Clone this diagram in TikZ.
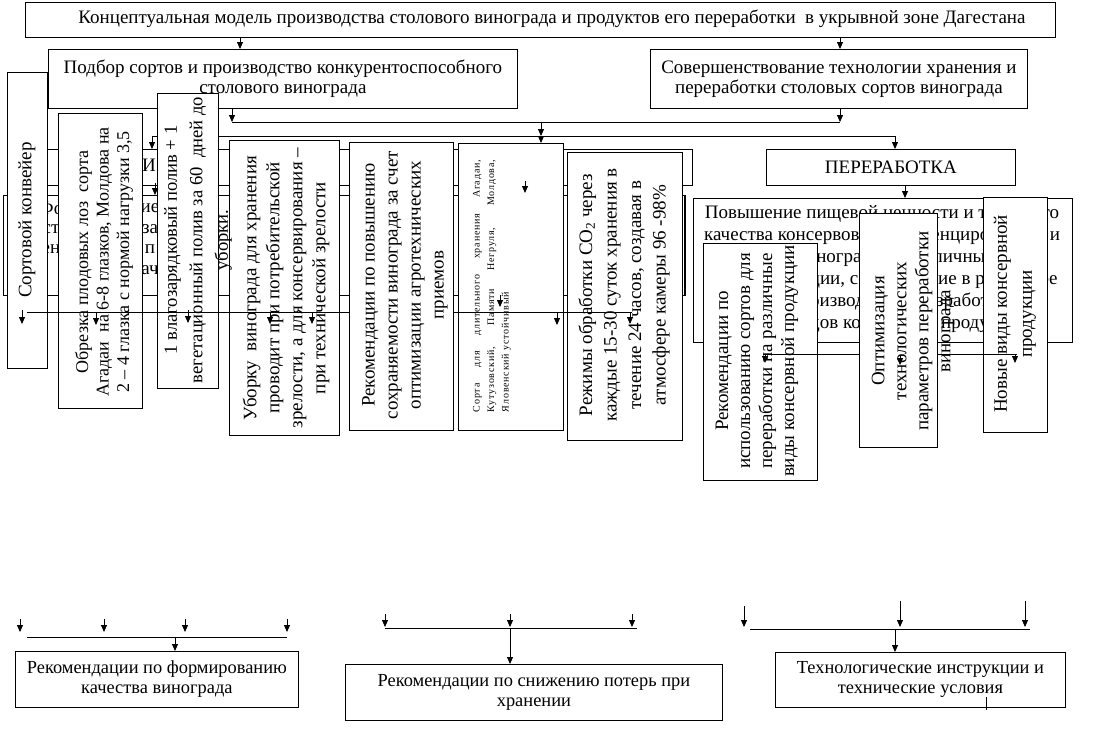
\documentclass[tikz,border=0pt]{standalone}
\usepackage{fontspec}
\setmainfont{Liberation Serif}
\usetikzlibrary{arrows.meta}
\begin{document}
\begin{tikzpicture}[x=1pt,y=-1pt,
  box/.style={draw, fill=white, line width=0.8pt, inner sep=0pt, anchor=north west},
  hid/.style={draw, line width=0.8pt, inner sep=0pt, anchor=north west},
  txt/.style={font=\fontsize{19}{20}\selectfont, align=center, inner sep=0pt},
  btxt/.style={txt, font=\fontsize{18.4}{20}\selectfont},
  vtxt/.style={txt, rotate=90},
  arr/.style={-{Triangle[length=7pt,width=6pt]}, line width=0.8pt},
  ln/.style={line width=0.8pt}]
\useasboundingbox (0,0) rectangle (1094,736);
\fill[white] (0,0) rectangle (1094,736);

% ---------- top level
\node[box, minimum width=1030pt, minimum height=35pt] (title) at (25,2) {};
\node[txt] (titleT) at (552,19) {Концептуальная модель производства столового винограда и продуктов его переработки\ \ в укрывной зоне Дагестана};
\node[box, minimum width=469pt, minimum height=59pt] (podbor) at (48,49) {};
\node[txt] (podborT) at (podbor.center) {Подбор сортов и производство конкурентоспособного\\столового винограда};
\node[box, minimum width=377pt, minimum height=59pt] (sov) at (650,49) {};
\node[txt] (sovT) at (sov.center) {Совершенствование технологии хранения и\\переработки столовых сортов винограда};

\coordinate (j1) at (232,122);
\coordinate (j2) at (840,122);
\coordinate (j3) at (541,122);
\coordinate (j4) at (541,136);
\coordinate (k1) at (152,136);
\coordinate (k2) at (895,136);
\coordinate (k1e) at (152,149);
\coordinate (j4e) at (541,143);
\draw[arr] (title.south -| 240,0) -- (podbor.north -| 240,0);
\draw[arr] (title.south -| 840,0) -- (sov.north -| 840,0);
\draw[arr] (podbor.south -| j1) -- (j1);
\draw[arr] (sov.south -| j2) -- (j2);
\draw[ln] (j1) -- (j2);
\draw[arr] (j3) -- (j4);
\draw[ln] (k1) -- (k2);
\draw[arr] (k1) -- (k1e);
\draw[arr] (j4) -- (j4e);

% ---------- hidden horizontal boxes
\node[hid, minimum width=652pt, minimum height=36pt] (hidA) at (40,149) {};
\node[txt] (hidAT) at (149,165) {И};
\node[hid, minimum width=681pt, minimum height=100pt] (hidB) at (3,195) {};
\draw[line width=2.6pt] (hidB.north east) -- (hidB.south east);
\node[txt] (fr1) at (51,208) {Фо};
\node[txt] (fr2) at (51,229) {ст};
\node[txt] (fr3) at (51,249) {ен};
\node[txt] (fr4) at (150,208) {ие};
\node[txt] (fr5) at (150,229) {за};
\node[txt] (fr6) at (150,249) {п};
\node[txt] (fr7) at (150,270) {ач};

\node[box, minimum width=249pt, minimum height=36pt] (pere) at (766,149) {};
\node[txt] (pereT) at (pere.center) {ПЕРЕРАБОТКА};
\draw[arr] (k2) -- (pere.north -| k2);
\node[box, minimum width=379pt, minimum height=144pt] (pov) at (693,198) {};
\node[txt, font=\fontsize{19}{22}\selectfont] (povT) at (882,269) {Повышение пищевой ценности и товарного\\качества консервов, дифференцированное и\\и сортов винограда на различные виды\\виды продукции, соотношение в рецептуре\\для производства и разработка\\новых видов консервной продукции};
\draw[arr] (pere.south -| 905,0) -- (pov.north -| 905,0);

% ---------- vertical boxes
\node[box, minimum width=40pt, minimum height=296pt] (sort) at (7,72) {};
\node[vtxt] (sortT) at (27,220) {Сортовой конвейер};
\node[box, minimum width=84pt, minimum height=295pt] (obr) at (58,113) {};
\node[vtxt, font=\fontsize{18}{20.5}\selectfont] (obrT) at (104,262) {Обрезка плодовых лоз\ \ сорта\\Агадаи\ \ на 6-8 глазков, Молдова на\\2 – 4 глазка с нормой нагрузки 3,5};
\node[box, minimum width=110pt, minimum height=295pt] (ub) at (229,140) {};
\node[vtxt, font=\fontsize{19}{23}\selectfont] (ubT) at (286,288) {Уборку\ \ винограда для хранения\\проводит при потребительской\\зрелости, а для консервирования –\\при технической зрелости};
\node[box, minimum width=61pt, minimum height=295pt] (vlag) at (157,93) {};
\node[vtxt, font=\fontsize{18.6}{25.5}\selectfont] (vlagT) at (198,240) {1 влагозарядковый полив + 1\\вегетационный полив за 60\ \ дней до\\уборки.};
\node[box, minimum width=104pt, minimum height=288pt] (rek) at (349,142) {};
\node[vtxt, font=\fontsize{19}{23}\selectfont] (rekT) at (405,285) {Рекомендации по повышению\\сохраняемости винограда за счет\\оптимизации агротехнических\\приемов};
\node[box, minimum width=105pt, minimum height=287pt] (sorta) at (458,143) {};
\node[rotate=90, inner sep=0pt, font=\fontsize{10}{14.5}\selectfont\addfontfeature{LetterSpace=8}] (sortaT) at (492,286)
  {\parbox{252pt}{\makebox[252pt][s]{Сорта для длительного хранения Агадаи,}\\\makebox[252pt][s]{Кутузовский, Памяти Негруля, Молдова,}\\Яловенский устойчивый}};
\node[box, minimum width=115pt, minimum height=288pt] (rez) at (567,152) {};
\node[vtxt, font=\fontsize{19}{24.5}\selectfont] (rezT) at (624,295) {Режимы обработки CO\textsubscript{2} через\\каждые 15-30 суток хранения в\\течение 24 часов, создавая в\\атмосфере камеры 96 -98\%};

\node[box, minimum width=114pt, minimum height=237pt] (risp) at (703,243) {};
\node[vtxt, font=\fontsize{19}{22}\selectfont] (rispT) at (757,361) {Рекомендации по\\использованию сортов для\\переработки на различные\\виды консервной продукции};
\node[box, minimum width=78pt, minimum height=234pt] (opt) at (859,213) {};
\node[vtxt, font=\fontsize{19}{22}\selectfont] (optT) at (913,331) {Оптимизация\\технологических\\параметров переработки\\винограда};
\node[box, minimum width=64pt, minimum height=235pt] (nov) at (983,197) {};
\node[vtxt, font=\fontsize{19}{25}\selectfont] (novT) at (1015,314) {Новые виды консервной\\продукции};

% ---------- middle connectors
\coordinate (m0) at (27,312);
\coordinate (m1) at (349,312);
\coordinate (m2) at (453,312);
\coordinate (m3) at (632,312);
\draw[ln] (m0) -- (m1);
\draw[ln] (m2) -- (m3);
\foreach \n/\x/\ya/\yb in {a/22/310/324, b/96/312/325, c/188/310/323, d/270/312/324, e/312/312/324,
    f/500/295/307, g/525/181/193, h/557/312/325, i/630/312/324, k/155/183/195} {
  \coordinate (s\n) at (\x,\ya);
  \coordinate (t\n) at (\x,\yb);
  \draw[arr] (s\n) -- (t\n);
}
\coordinate (r0) at (763,354);
\coordinate (r1) at (859,354);
\coordinate (r2) at (937,354);
\coordinate (r3) at (1017,354);
\draw[ln] (r0) -- (r1);
\draw[ln] (r2) -- (r3);
\foreach \n/\x/\ya/\yb in {a/765/354/363, b/900/355/365, c/1015/354/363} {
  \coordinate (rs\n) at (\x,\ya);
  \coordinate (rt\n) at (\x,\yb);
  \draw[arr] (rs\n) -- (rt\n);
}

% ---------- bottom
\node[box, minimum width=283pt, minimum height=56pt] (b1) at (15,651) {};
\node[btxt] (b1T) at (b1.center) {Рекомендации по формированию\\качества винограда};
\node[box, minimum width=377pt, minimum height=56pt] (b2) at (345,664) {};
\node[btxt] (b2T) at (b2.center) {Рекомендации по снижению потерь при\\хранении};
\node[box, minimum width=290pt, minimum height=55pt] (b3) at (775,652) {};
\node[btxt] (b3T) at (b3.center) {Технологические инструкции и\\технические условия};

\foreach \n/\x in {a/20, b/104, c/185, d/287} {
  \coordinate (la\n) at (\x,619);
  \coordinate (lb\n) at (\x,632);
  \draw[arr] (la\n) -- (lb\n);
}
\coordinate (l0) at (27,637);
\coordinate (l1) at (287,637);
\coordinate (l2) at (175,637);
\draw[ln] (l0) -- (l1);
\draw[arr] (l2) -- (b1.north -| l2);

\foreach \n/\x in {a/385, b/510, c/632} {
  \coordinate (ma\n) at (\x,614);
  \coordinate (mb\n) at (\x,627);
  \draw[arr] (ma\n) -- (mb\n);
}
\coordinate (n0) at (385,628);
\coordinate (n1) at (637,628);
\coordinate (n2) at (510,628);
\draw[ln] (n0) -- (n1);
\draw[arr] (n2) -- (b2.north -| n2);

\foreach \n/\x/\y in {a/744/606, b/900/601, c/1025/601} {
  \coordinate (ra\n) at (\x,\y);
  \coordinate (rb\n) at (\x,627);
  \draw[arr] (ra\n) -- (rb\n);
}
\coordinate (q0) at (750,629);
\coordinate (q1) at (1030,629);
\coordinate (q2) at (895,629);
\draw[ln] (q0) -- (q1);
\draw[arr] (q2) -- (b3.north -| q2);
\coordinate (tk1) at (986,697);
\coordinate (tk2) at (986,710);
\draw[ln] (tk1) -- (tk2);
\end{tikzpicture}
\end{document}
